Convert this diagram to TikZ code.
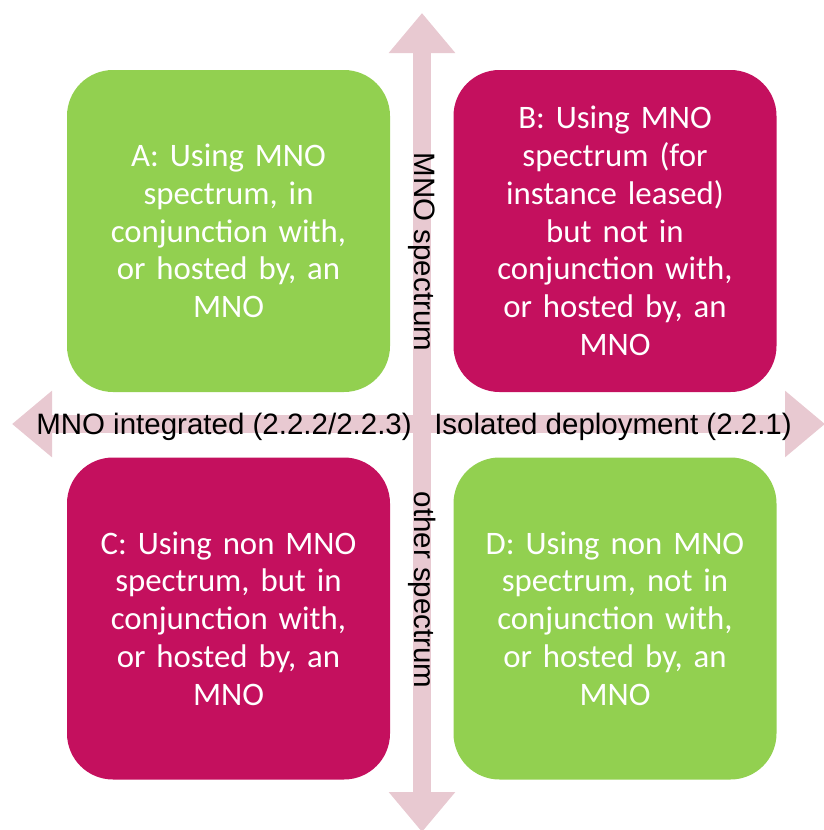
\documentclass[tikz,border=0pt]{standalone}
\usepackage{fontspec}
\setmainfont{Carlito}
\newfontfamily\arialfont{Liberation Sans}
\usetikzlibrary{arrows.meta}

\definecolor{mnogreen}{HTML}{92D050}
\definecolor{mnored}{HTML}{C4105E}
\definecolor{axispink}{HTML}{E8C9D1}

\tikzstyle{quadrant} = [minimum width=323pt, minimum height=322pt, rounded corners=46pt, text width=300pt, align=center, text=white, inner sep=0pt, font=\fontsize{32.8}{37.8}\selectfont]
\tikzstyle{greenbox} = [quadrant, fill=mnogreen]
\tikzstyle{redbox} = [quadrant, fill=mnored]
\tikzstyle{axis} = [draw=axispink, line width=18pt, {Triangle[length=40pt,width=64pt]}-{Triangle[length=40pt,width=64pt]}]
\tikzstyle{axislabel} = [inner sep=0pt, font=\arialfont\fontsize{29.5}{34}\selectfont]

\begin{document}
\begin{tikzpicture}[x=1pt, y=-1pt]
\useasboundingbox (0,0) rectangle (823,830);

% axes
\coordinate (top) at (422,13);
\coordinate (bottom) at (422,832);
\coordinate (left) at (12,424);
\coordinate (right) at (825,424);
\draw[axis] (top) -- (bottom);
\draw[axis] (left) -- (right);

% quadrants
\node[greenbox] (quadA) at (228.5,231) {A: Using MNO\\ spectrum, in\\ conjunction with,\\ or hosted by, an\\ MNO};
\node[redbox] (quadB) at (615,231) {B: Using MNO\\ spectrum (for\\ instance leased)\\ but not in\\ conjunction with,\\ or hosted by, an\\ MNO};
\node[redbox] (quadC) at (228.5,618.5) {C: Using non MNO\\ spectrum, but in\\ conjunction with,\\ or hosted by, an\\ MNO};
\node[greenbox] (quadD) at (615,618.5) {D: Using non MNO\\ spectrum, not in\\ conjunction with,\\ or hosted by, an\\ MNO};

% axis labels
\node[axislabel] (integrated) at (224,427) {MNO integrated (2.2.2/2.2.3)};
\node[axislabel] (isolated) at (613,427) {Isolated deployment (2.2.1)};
\node[axislabel, rotate=-90] (mnospec) at (422,252) {MNO spectrum};
\node[axislabel, rotate=-90] (otherspec) at (422,590) {other spectrum};
\end{tikzpicture}
\end{document}
